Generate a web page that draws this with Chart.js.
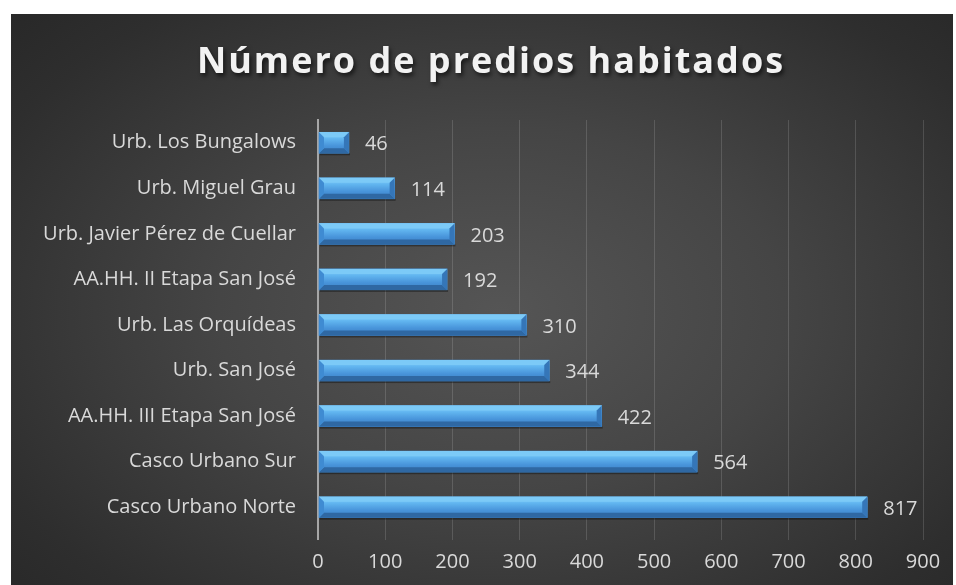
<!DOCTYPE html>
<html>
<head>
<meta charset="utf-8">
<script src="https://cdn.jsdelivr.net/npm/chart.js@4/dist/chart.umd.min.js"></script>
<style>
  html, body { margin: 0; padding: 0; background: #ffffff; }
  #marco {
    position: absolute; left: 11px; top: 14px; width: 942px; height: 571px;
    background: radial-gradient(ellipse 75% 80% at 52% 52%, #555555 0%, #454545 40%, #2e2e2e 80%, #262626 100%);
  }
  #grafico { display: block; }
</style>
</head>
<body>
<div id="marco"><canvas id="grafico" width="942" height="571"></canvas></div>
<script>
// datos del gráfico
const titulo = "Número de predios habitados";
const zonas = [
  "Urb. Los Bungalows",
  "Urb. Miguel Grau",
  "Urb. Javier Pérez de Cuellar",
  "AA.HH. II Etapa San José",
  "Urb. Las Orquídeas",
  "Urb. San José",
  "AA.HH. III Etapa San José",
  "Casco Urbano Sur",
  "Casco Urbano Norte"
];
const predios = [46, 114, 203, 192, 310, 344, 422, 564, 817];
const ejeMax = 900;
const ejePaso = 100;

const fuente = "'Open Sans', 'Noto Sans', sans-serif";
const gris = "#d9d9d9";

// título con espaciado de letras y sombra
const pluginTitulo = {
  id: "tituloEspaciado",
  afterDraw(chart) {
    const ctx = chart.ctx;
    ctx.save();
    ctx.font = "bold 36px " + fuente;
    ctx.letterSpacing = "2px";
    ctx.textAlign = "center";
    ctx.textBaseline = "middle";
    ctx.shadowColor = "rgba(0,0,0,0.6)";
    ctx.shadowOffsetX = 2;
    ctx.shadowOffsetY = 3;
    ctx.shadowBlur = 4;
    ctx.fillStyle = "#f2f2f2";
    ctx.fillText(titulo, chart.width / 2 + 9, 49);
    ctx.restore();
  }
};

// barras con bisel y etiquetas de valor
const pluginBisel = {
  id: "biselBarras",
  afterDatasetsDraw(chart) {
    const ctx = chart.ctx;
    const meta = chart.getDatasetMeta(0);
    meta.data.forEach((bar, i) => {
      const p = bar.getProps(["x", "y", "base", "height"], true);
      const l = p.base, r = p.x, t = p.y - p.height / 2, b = p.y + p.height / 2;
      const bv = Math.min(5, (r - l) / 2);
      ctx.save();
      // sombra
      ctx.fillStyle = "rgba(0,0,0,0.35)";
      ctx.fillRect(l + 1, b, r - l, 2);
      // cara
      const g = ctx.createLinearGradient(0, t, 0, b);
      g.addColorStop(0, "#8fd8fd");
      g.addColorStop(0.3, "#62b6f0");
      g.addColorStop(0.65, "#4894da");
      g.addColorStop(1, "#3c7fc2");
      ctx.fillStyle = g;
      ctx.fillRect(l, t, r - l, b - t);
      const poly = (pts, col) => {
        ctx.beginPath();
        ctx.moveTo(pts[0][0], pts[0][1]);
        for (let k = 1; k < pts.length; k++) ctx.lineTo(pts[k][0], pts[k][1]);
        ctx.closePath();
        ctx.fillStyle = col;
        ctx.fill();
      };
      // bisel superior
      poly([[l, t], [r, t], [r - bv, t + bv], [l + bv, t + bv]], "#7ccaf7");
      // bisel inferior
      poly([[l, b], [r, b], [r - bv, b - bv], [l + bv, b - bv]], "#2f68a3");
      // bisel izquierdo
      poly([[l, t], [l + bv, t + bv], [l + bv, b - bv], [l, b]], "#3f8bd2");
      // bisel derecho
      poly([[r, t], [r - bv, t + bv], [r - bv, b - bv], [r, b]], "#3576b8");
      ctx.restore();

      // etiqueta
      ctx.save();
      ctx.font = "20px " + fuente;
      ctx.fillStyle = gris;
      ctx.textAlign = "left";
      ctx.textBaseline = "middle";
      ctx.fillText(String(predios[i]), r + 16, p.y + 2);
      ctx.restore();
    });
  }
};

const ctx = document.getElementById("grafico").getContext("2d");
new Chart(ctx, {
  type: "bar",
  data: {
    labels: zonas,
    datasets: [{
      data: predios,
      backgroundColor: "#4894da",
      barThickness: 21
    }]
  },
  options: {
    indexAxis: "y",
    responsive: false,
    animation: false,
    layout: { padding: { top: 106, right: 30, left: 0, bottom: 0 } },
    plugins: {
      legend: { display: false },
      title: { display: false },
      tooltip: { enabled: false }
    },
    scales: {
      x: {
        min: 0,
        max: ejeMax,
        ticks: {
          stepSize: ejePaso,
          color: gris,
          font: { family: fuente, size: 20 },
          padding: 10
        },
        grid: {
          color: c => c.tick && c.tick.value === 0 ? "#a6a6a6" : "rgba(255,255,255,0.14)",
          lineWidth: c => c.tick && c.tick.value === 0 ? 2 : 1,
          tickLength: 10
        },
        border: { display: false },
        afterFit(scale) { scale.height = 55; }
      },
      y: {
        ticks: {
          color: gris,
          font: { family: fuente, size: 20 },
          padding: 22
        },
        grid: { display: false, drawTicks: false },
        border: { display: true, color: "#a6a6a6", width: 2 },
        afterFit(scale) { scale.width = 307; }
      }
    }
  },
  plugins: [pluginBisel, pluginTitulo]
});
</script>
</body>
</html>
